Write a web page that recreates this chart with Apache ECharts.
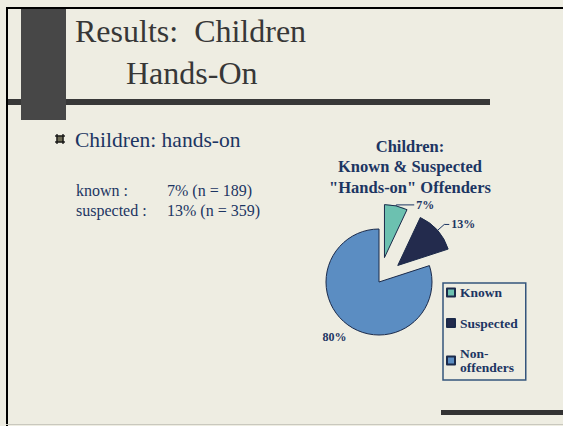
<!DOCTYPE html>
<html>
<head>
<meta charset="utf-8">
<title>Results: Children Hands-On</title>
<script src="https://cdn.jsdelivr.net/npm/echarts@6/dist/echarts.min.js"></script>
<style>
  html, body { margin: 0; padding: 0; background: #eeede2; }
  #chart { width: 563px; height: 426px; }
</style>
</head>
<body>
<div id="chart"></div>
<script>
// Pie data: share of children per offender group (percent)
const categories = ['Known', 'Suspected', 'Non-offenders'];
const shares = [7, 13, 80];
const legendLabels = ['Known', 'Suspected', 'Non-\noffenders'];

// Summary lines shown beside the bullet
const summaryLabels = ['known :', 'suspected :'];
const summaryValues = ['7% (n = 189)', '13% (n = 359)'];

const SERIF = "'Times New Roman', 'Liberation Serif', serif";
const NAVY = '#1c3562';
const sliceColors = ['#6cc1b0', '#232b4d', '#5b8dc2'];
const sliceOutline = '#1b2a4a';

// per-slice leader line tuning (lengths, visibility)
const sliceLabelLines = [
  { show: true, length: 1, length2: 18 },
  { show: true, length: 9, length2: 5 },
  { show: false, length: 14, length2: 0 }
];

const chart = echarts.init(document.getElementById('chart'), null, { renderer: 'svg' });

const slideGraphics = [
  // slide frame
  { type: 'rect', shape: { x: 6, y: 7, width: 557, height: 2 }, style: { fill: '#000' }, z: 1 },
  { type: 'rect', shape: { x: 6, y: 7, width: 2, height: 419 }, style: { fill: '#000' }, z: 1 },
  { type: 'rect', shape: { x: 6, y: 424, width: 557, height: 1 }, style: { fill: '#c9c8be' }, z: 1 },
  // header bars
  { type: 'rect', shape: { x: 8, y: 99, width: 482, height: 6 }, style: { fill: '#383838' }, z: 1 },
  { type: 'rect', shape: { x: 21, y: 9, width: 45, height: 111 }, style: { fill: '#474747' }, z: 2 },
  // footer bar
  { type: 'rect', shape: { x: 441, y: 410, width: 122, height: 5 }, style: { fill: '#333333' }, z: 1 },
  // heading
  { type: 'text', x: 75, y: 31, style: { text: 'Results:\u00a0 Children', font: '32px ' + SERIF, fill: '#373737', verticalAlign: 'middle' }, z: 3 },
  { type: 'text', x: 126, y: 73, style: { text: 'Hands-On', font: '32px ' + SERIF, fill: '#373737', verticalAlign: 'middle' }, z: 3 },
  // bullet glyph: filled square framed by a hash outline
  { type: 'rect', shape: { x: 56.5, y: 135.5, width: 7, height: 7 }, style: { fill: '#6e6c55' }, z: 3 },
  { type: 'polyline', shape: { points: [[55, 136], [65, 136]] }, style: { stroke: '#111', lineWidth: 1.3 }, z: 4 },
  { type: 'polyline', shape: { points: [[55, 142], [65, 142]] }, style: { stroke: '#111', lineWidth: 1.3 }, z: 4 },
  { type: 'polyline', shape: { points: [[57, 134], [57, 144]] }, style: { stroke: '#111', lineWidth: 1.3 }, z: 4 },
  { type: 'polyline', shape: { points: [[63, 134], [63, 144]] }, style: { stroke: '#111', lineWidth: 1.3 }, z: 4 },
  { type: 'text', x: 75, y: 140, style: { text: 'Children: hands-on', font: '21.5px ' + SERIF, fill: NAVY, verticalAlign: 'middle' }, z: 3 }
];

summaryLabels.forEach(function (label, i) {
  const y = 190 + i * 20;
  slideGraphics.push(
    { type: 'text', x: 76, y: y, style: { text: label, font: '16px ' + SERIF, fill: NAVY, verticalAlign: 'middle' }, z: 3 },
    { type: 'text', x: 167, y: y, style: { text: summaryValues[i], font: '16px ' + SERIF, fill: NAVY, verticalAlign: 'middle' }, z: 3 }
  );
});

const option = {
  backgroundColor: '#eeede2',
  animation: false,
  title: {
    text: 'Children:\nKnown & Suspected\n"Hands-on" Offenders',
    left: 410,
    top: 136,
    padding: 0,
    textAlign: 'center',
    textStyle: {
      fontFamily: SERIF,
      fontWeight: 'bold',
      fontSize: 16.5,
      lineHeight: 20.5,
      color: NAVY
    }
  },
  legend: {
    orient: 'vertical',
    left: 443,
    top: 283,
    padding: [2.5, 8, 5.5, 3],
    itemGap: 16.5,
    itemWidth: 8,
    itemHeight: 8,
    icon: 'rect',
    borderColor: '#34557c',
    borderWidth: 1.5,
    selectedMode: false,
    data: categories.map(function (name, i) {
      const item = { name: name };
      if (legendLabels[i].indexOf('\n') >= 0) {
        // two-line entry: keep the marker level with the first line
        item.textStyle = { padding: [0, 0, -14, 0] };
      }
      return item;
    }),
    formatter: function (name) {
      return legendLabels[categories.indexOf(name)];
    },
    textStyle: {
      fontFamily: SERIF,
      fontWeight: 'bold',
      fontSize: 13.5,
      lineHeight: 14,
      color: NAVY
    }
  },
  graphic: slideGraphics,
  series: [{
    type: 'pie',
    center: [379, 282],
    radius: 53,
    startAngle: 90,
    clockwise: true,
    selectedMode: 'multiple',
    selectedOffset: 25,
    avoidLabelOverlap: false,
    emphasis: { disabled: true },
    itemStyle: { borderColor: sliceOutline, borderWidth: 1 },
    label: {
      show: true,
      position: 'outside',
      formatter: '{d}%',
      fontFamily: SERIF,
      fontWeight: 'bold',
      fontSize: 12,
      color: NAVY,
      distanceToLabelLine: 2
    },
    labelLine: { lineStyle: { color: NAVY, width: 1 } },
    // the large slice's label sits a little closer in, without a leader
    labelLayout: function (params) {
      return params.dataIndex === 2 ? { dx: 9, dy: 1 } : {};
    },
    data: categories.map(function (name, i) {
      return {
        name: name,
        value: shares[i],
        selected: i < 2,
        itemStyle: { color: sliceColors[i] },
        labelLine: sliceLabelLines[i]
      };
    })
  }]
};

chart.setOption(option);
</script>
</body>
</html>
